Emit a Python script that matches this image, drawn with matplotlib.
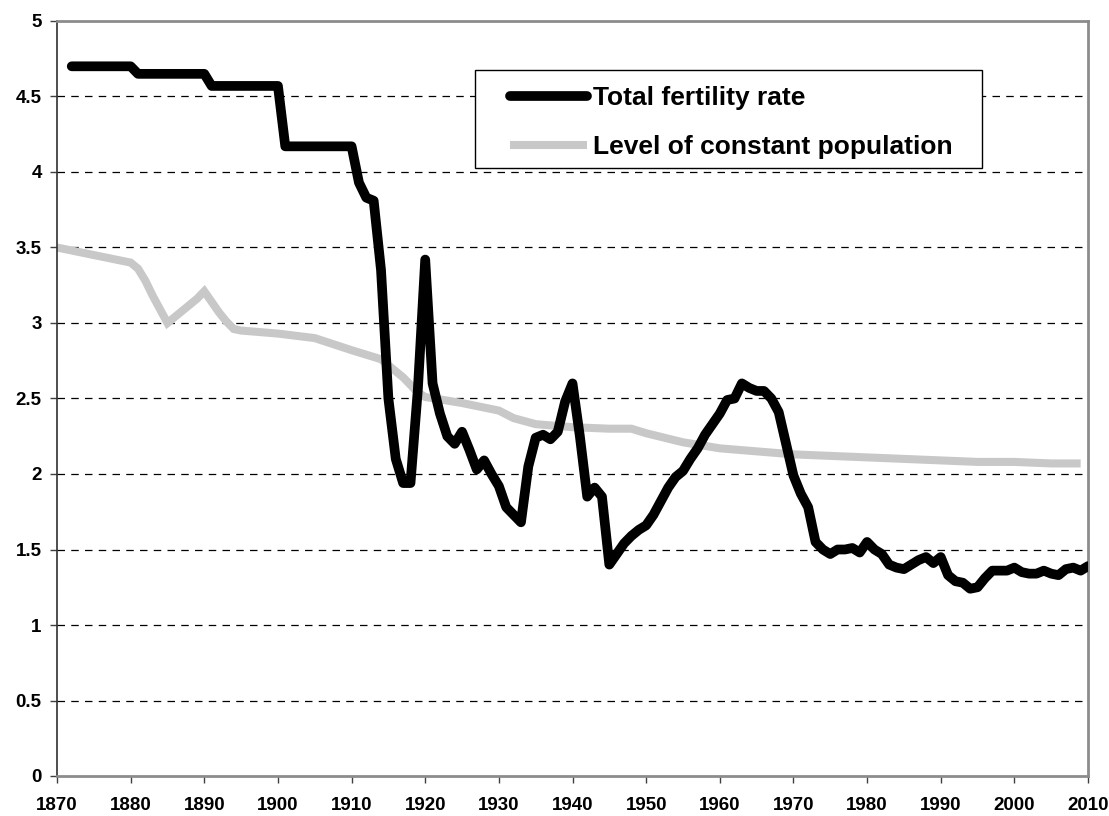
import matplotlib
matplotlib.use("Agg")
import matplotlib.pyplot as plt
from matplotlib.patches import Rectangle

plt.rcParams["font.family"] = ["Liberation Sans", "DejaVu Sans"]

W, H = 1109, 816
AX_L, AX_R, AX_T, AX_B = 57, 1088, 21, 776

# Total fertility rate, 1872-2010
tfr_years = list(range(1872, 2011))
tfr = [
    4.70, 4.70, 4.70, 4.70, 4.70, 4.70, 4.70, 4.70, 4.70,         # 1872-1880
    4.65, 4.65, 4.65, 4.65, 4.65, 4.65, 4.65, 4.65, 4.65, 4.65,   # 1881-1890
    4.57, 4.57, 4.57, 4.57, 4.57, 4.57, 4.57, 4.57, 4.57, 4.57,   # 1891-1900
    4.17, 4.17, 4.17, 4.17, 4.17, 4.17, 4.17, 4.17, 4.17, 4.17,   # 1901-1910
    3.93, 3.83, 3.81, 3.35, 2.50, 2.10, 1.94, 1.94, 2.56, 3.42,   # 1911-1920
    2.60, 2.40, 2.25, 2.20, 2.28, 2.16, 2.03, 2.09, 2.00, 1.92,   # 1921-1930
    1.78, 1.73, 1.68, 2.05, 2.24, 2.26, 2.23, 2.28, 2.48, 2.60,   # 1931-1940
    2.25, 1.85, 1.91, 1.85, 1.40, 1.47, 1.54, 1.59, 1.63, 1.66,   # 1941-1950
    1.73, 1.82, 1.91, 1.98, 2.02, 2.10, 2.17, 2.26, 2.33, 2.40,   # 1951-1960
    2.49, 2.50, 2.60, 2.57, 2.55, 2.55, 2.50, 2.41, 2.20, 1.99,   # 1961-1970
    1.87, 1.78, 1.55, 1.50, 1.47, 1.50, 1.50, 1.51, 1.48, 1.55,   # 1971-1980
    1.50, 1.47, 1.40, 1.38, 1.37, 1.40, 1.43, 1.45, 1.41, 1.45,   # 1981-1990
    1.33, 1.29, 1.28, 1.24, 1.25, 1.31, 1.36, 1.36, 1.36, 1.38,   # 1991-2000
    1.35, 1.34, 1.34, 1.36, 1.34, 1.33, 1.37, 1.38, 1.36, 1.39,   # 2001-2010
]

# Level of constant population (replacement level)
rep_years = [1870, 1875, 1880, 1881, 1882, 1883, 1884, 1885, 1886, 1887,
             1888, 1889, 1890, 1891, 1892, 1893, 1894, 1895, 1900, 1905,
             1910, 1914, 1917, 1919, 1920, 1925, 1930, 1932, 1935, 1940,
             1945, 1948, 1950, 1955, 1960, 1965, 1970, 1975, 1980, 1985,
             1990, 1995, 2000, 2005, 2009]
rep = [3.50, 3.45, 3.40, 3.36, 3.28, 3.18, 3.09, 3.00, 3.04, 3.08,
       3.12, 3.16, 3.21, 3.14, 3.07, 3.01, 2.96, 2.95, 2.93, 2.90,
       2.82, 2.76, 2.64, 2.54, 2.51, 2.47, 2.42, 2.37, 2.33, 2.31,
       2.30, 2.30, 2.27, 2.21, 2.17, 2.15, 2.13, 2.12, 2.11, 2.10,
       2.09, 2.08, 2.08, 2.07, 2.07]

x_ticks = list(range(1870, 2011, 10))
y_ticks = [0, 0.5, 1, 1.5, 2, 2.5, 3, 3.5, 4, 4.5, 5]
y_labels = ["0", "0.5", "1", "1.5", "2", "2.5", "3", "3.5", "4", "4.5", "5"]


def ax_frac(px, py):
    # pixel position in the figure -> axes fraction
    return (px - AX_L) / (AX_R - AX_L), 1 - (py - AX_T) / (AX_B - AX_T)


fig = plt.figure(figsize=(W / 100, H / 100), dpi=100)
ax = fig.add_axes([AX_L / W, 1 - AX_B / H, (AX_R - AX_L) / W, (AX_B - AX_T) / H])

ax.plot(rep_years, rep, color="#c8c8c8", lw=5.8, solid_capstyle="butt",
        solid_joinstyle="miter", label="Level of constant population", zorder=2)
ax.plot(tfr_years, tfr, color="black", lw=7, solid_capstyle="round",
        solid_joinstyle="round", label="Total fertility rate", zorder=3)

ax.set_xlim(1870, 2010)
ax.set_ylim(0, 5)
ax.set_xticks(x_ticks)
ax.set_xticklabels([str(y) for y in x_ticks], fontsize=13.5, fontweight="bold")
ax.set_yticks(y_ticks)
ax.set_yticklabels(y_labels, fontsize=13.5, fontweight="bold")
ax.tick_params(axis="both", direction="out", length=5, width=1, color="#404040")
ax.tick_params(axis="x", pad=10)
ax.tick_params(axis="y", pad=6)

for y in y_ticks[1:-1]:
    ax.axhline(y, color="black", lw=0.9, ls=(0, (6, 5)), zorder=1)

ax.spines["left"].set_color("#303030")
ax.spines["left"].set_linewidth(1.2)
for side in ["bottom", "top", "right"]:
    ax.spines[side].set_color("#8c8c8c")
    ax.spines[side].set_linewidth(2)

# legend box drawn by hand so its padding matches
x0, y0 = ax_frac(475, 168)
x1, y1 = ax_frac(982, 70)
ax.add_patch(Rectangle((x0, y0), x1 - x0, y1 - y0, transform=ax.transAxes,
                       facecolor="white", edgecolor="black", lw=1, zorder=4))

handles, labels = ax.get_legend_handles_labels()
leg = ax.legend(handles[::-1], labels[::-1], loc="upper left",
                bbox_to_anchor=ax_frac(510, 86), frameon=False,
                prop={"size": 19, "weight": "bold"}, handlelength=2.9,
                handletextpad=0.25, borderpad=0, labelspacing=0.95,
                borderaxespad=0)
leg.set_zorder(5)

fig.savefig("out.png", dpi=100)
